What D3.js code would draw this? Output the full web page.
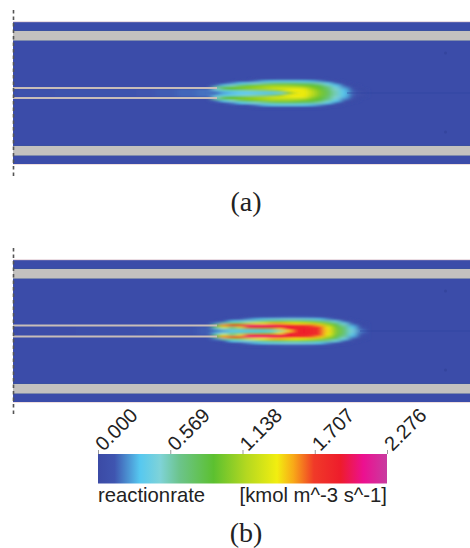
<!DOCTYPE html>
<html>
<head>
<meta charset="utf-8">
<script src="https://cdn.jsdelivr.net/npm/d3@7/dist/d3.min.js"></script>
<style>
  html, body { margin: 0; padding: 0; background: #fff; }
  svg { display: block; }
</style>
</head>
<body>
<div id="chart"></div>
<script>
// colour bar
var tickValues = [0, 0.569, 1.138, 1.707, 2.276];
var rampValues = [0, 0.13, 0.33, 0.49, 0.64, 0.91, 1.17, 1.41, 1.54, 1.70, 1.91, 2.09, 2.276];
var rampColors = ["#3b4aa5", "#3f55b0", "#56c8f0", "#7fd3d8", "#6cc48c", "#5cc030", "#b4d820", "#f2ee10", "#f8a818", "#f03a28", "#ee1c2c", "#ec1090", "#c83ca0"];

// reaction rate, one array per axial station, from the centreline outwards
var radialStations = [0, 1, 2, 3, 4, 5, 6, 7];
var axialStations = d3.range(19);
var flameA = [
  [.15, .25, .50, .60, .15, 0, 0, 0],
  [.25, .35, .75, .85, .35, .05, 0, 0],
  [.30, .40, .90, .95, .50, .20, 0, 0],
  [.33, .45, .95, 1.0, .70, .33, .03, 0],
  [.33, .50, 1.0, 1.05, .85, .42, .10, 0],
  [.35, .55, 1.05, 1.10, .95, .50, .20, .02],
  [.35, .60, 1.10, 1.15, 1.0, .60, .30, .04],
  [.38, .70, 1.20, 1.20, 1.05, .70, .35, .05],
  [.50, .95, 1.30, 1.20, 1.05, .75, .38, .06],
  [.90, 1.30, 1.35, 1.20, 1.05, .75, .38, .06],
  [1.30, 1.42, 1.38, 1.20, 1.0, .75, .38, .06],
  [1.40, 1.42, 1.35, 1.15, .95, .70, .35, .05],
  [1.20, 1.20, 1.10, 1.0, .90, .65, .30, .04],
  [1.0, 1.0, .95, .90, .80, .55, .22, .02],
  [.80, .80, .75, .70, .55, .35, .08, 0],
  [.55, .55, .50, .45, .33, .15, .02, 0],
  [.33, .33, .30, .22, .12, .02, 0, 0],
  [.15, .14, .10, .05, .01, 0, 0, 0],
  [.04, .03, .01, 0, 0, 0, 0, 0]
];
var flameB = [
  [.15, .30, .70, .90, .20, 0, 0, 0],
  [.25, .50, 1.30, 1.60, .60, .10, 0, 0],
  [.33, .60, .70, 1.90, 1.0, .33, .03, 0],
  [.33, .60, 1.30, 1.95, 1.0, .42, .12, 0],
  [.35, .70, 1.75, 2.05, 1.20, .50, .22, .02],
  [.35, .75, 1.90, 2.05, 1.35, .60, .30, .06],
  [.38, .85, 1.90, 2.05, 1.40, .75, .38, .10],
  [.42, 1.0, 1.95, 2.0, 1.50, .85, .42, .12],
  [.60, 1.40, 1.95, 1.95, 1.50, .90, .45, .14],
  [1.40, 1.80, 1.95, 1.85, 1.45, .95, .48, .15],
  [1.85, 1.85, 1.85, 1.75, 1.40, .95, .48, .15],
  [1.90, 1.90, 1.85, 1.72, 1.35, .92, .45, .15],
  [1.85, 1.85, 1.80, 1.65, 1.25, .85, .42, .14],
  [1.75, 1.75, 1.70, 1.50, 1.10, .75, .35, .08],
  [1.45, 1.42, 1.35, 1.15, .95, .60, .22, .03],
  [1.0, 1.0, .95, .90, .72, .42, .08, 0],
  [.75, .75, .70, .58, .40, .15, .02, 0],
  [.45, .42, .35, .25, .12, .03, 0, 0],
  [.20, .16, .10, .05, .01, 0, 0, 0]
];
// weak reaction inside the inner pipe, inlet to pipe exit
var pipeA = [.08, .08, .09, .09, .10, .11, .12, .14, .16, .18];
var pipeB = [.04, .05, .05, .06, .06, .07, .08, .09, .11, .14];

var width = 470;
var height = 548;
var blue = "#3b4ca9";
var wallGray = "#c3c1bf";

var svg = d3.select("#chart").append("svg")
  .attr("width", width)
  .attr("height", height);

var color = d3.scaleLinear().domain(rampValues).range(rampColors).clamp(true);

var defs = svg.append("defs");
defs.append("filter").attr("id", "soft")
  .attr("x", "-10%").attr("y", "-30%").attr("width", "120%").attr("height", "160%")
  .append("feGaussianBlur").attr("stdDeviation", "3.2 0.8");

defs.append("clipPath").attr("id", "domain")
  .append("rect").attr("x", 13).attr("y", 0).attr("width", 457).attr("height", 142);

var grad = defs.append("linearGradient").attr("id", "ramp");
grad.selectAll("stop").data(rampValues).enter().append("stop")
  .attr("offset", d => (d / 2.276))
  .attr("stop-color", d => color(d));

var xFlame = d3.scaleBand().domain(axialStations).range([212, 364]);
var xPipe = d3.scaleBand().domain(d3.range(10)).range([13, 217]);
var rFlame = d3.scaleLinear().domain([-0.5, 7.5]).range([-1, 15]);

function drawPanel(top, flame, pipe, pipeHalf, lineStart) {
  var g = svg.append("g").attr("transform", "translate(0," + top + ")");
  var mid = 71;

  g.append("rect").attr("x", 13).attr("y", 0).attr("width", 457).attr("height", 142).attr("fill", blue);
  g.append("rect").attr("x", 13).attr("y", -0.5).attr("width", 457).attr("height", 0.7).attr("fill", "#d8bcc8");
  g.append("rect").attr("x", 13).attr("y", 142).attr("width", 457).attr("height", 0.7).attr("fill", "#e8d0d0");

  // walls
  [[9, 9.5], [124, 9.5]].forEach(function (w) {
    g.append("rect").attr("x", 13).attr("y", w[0] - 0.5).attr("width", 457).attr("height", w[1] + 1).attr("fill", "#3a5598");
    g.append("rect").attr("x", 13).attr("y", w[0]).attr("width", 457).attr("height", w[1]).attr("fill", wallGray);
  });

  var inner = g.append("g").attr("clip-path", "url(#domain)");

  // pipe interior
  inner.append("g").attr("filter", "url(#soft)")
    .selectAll("rect").data(pipe).enter().append("rect")
    .attr("x", (d, i) => xPipe(i))
    .attr("y", mid - pipeHalf + 1)
    .attr("width", xPipe.bandwidth() + 0.5)
    .attr("height", 2 * pipeHalf - 2)
    .attr("fill", d => color(d));

  // flame, mirrored about the axis
  var flameG = inner.append("g").attr("filter", "url(#soft)");
  [-1, 1].forEach(function (side) {
    flame.forEach(function (col, i) {
      flameG.selectAll(null).data(col).enter().append("rect")
        .attr("x", xFlame(axialStations[i]))
        .attr("y", (d, j) => {
          var a = mid + side * rFlame(radialStations[j] - 0.5);
          var b = mid + side * rFlame(radialStations[j] + 0.5);
          return Math.min(a, b);
        })
        .attr("width", xFlame.bandwidth() + 0.5)
        .attr("height", Math.abs(rFlame(1) - rFlame(0)) + 0.3)
        .attr("fill", d => color(d))
        .attr("fill-opacity", d => d < 0.01 ? 0 : 1);
    });
  });

  // axis line past the flame
  g.append("line").attr("x1", lineStart).attr("x2", 470).attr("y1", mid).attr("y2", mid)
    .attr("stroke", "#2f45a0").attr("stroke-width", 0.7).attr("stroke-opacity", 0.9);

  // pipe walls
  [-pipeHalf, pipeHalf].forEach(function (dy) {
    g.append("rect").attr("x", 13).attr("y", mid + dy - 1).attr("width", 204).attr("height", 2).attr("fill", "#c8bdb8");
  });

  // grid specks near the outlet
  [31, 110].forEach(function (y) {
    g.append("circle").attr("cx", 445.5).attr("cy", y).attr("r", 1.5).attr("fill", "#34459e");
  });

  // symmetry plane
  g.append("line").attr("x1", 13.5).attr("x2", 13.5).attr("y1", -12).attr("y2", 154)
    .attr("stroke", "#555").attr("stroke-width", 1.6).attr("stroke-dasharray", "3.5 3");
}

drawPanel(22, flameA, pipeA, 5, 347);
drawPanel(260, flameB, pipeB, 5.5, 360);

// captions
[["(a)", 211], ["(b)", 542]].forEach(function (c) {
  svg.append("text")
    .attr("x", 246).attr("y", c[1])
    .attr("text-anchor", "middle")
    .attr("font-family", "'Liberation Serif', serif")
    .attr("font-size", 28)
    .attr("fill", "#222")
    .text(c[0]);
});

// colour bar
var barScale = d3.scaleLinear().domain([0, 2.276]).range([98, 387]);
svg.append("rect")
  .attr("x", 98).attr("y", 454).attr("width", 289).attr("height", 29.5)
  .attr("fill", "url(#ramp)");

var barAxis = d3.axisTop(barScale)
  .tickValues(tickValues)
  .tickFormat(d3.format(".3f"))
  .tickSize(4)
  .tickSizeOuter(0);

var axisG = svg.append("g").attr("transform", "translate(0,454)").call(barAxis);
axisG.select(".domain").remove();
axisG.selectAll("line").attr("stroke", "#999");
axisG.selectAll("text")
  .attr("font-family", "'Liberation Sans', sans-serif")
  .attr("font-size", 20)
  .attr("fill", "#222")
  .attr("text-anchor", "start")
  .attr("dy", null)
  .attr("y", 0)
  .attr("transform", "translate(5,-2) rotate(-45)");

svg.append("text")
  .attr("x", 98).attr("y", 502)
  .attr("font-family", "'Liberation Sans', sans-serif")
  .attr("font-size", 20.3)
  .attr("fill", "#222")
  .text("reactionrate");

svg.append("text")
  .attr("x", 387).attr("y", 502)
  .attr("text-anchor", "end")
  .attr("font-family", "'Liberation Sans', sans-serif")
  .attr("font-size", 20.3)
  .attr("fill", "#222")
  .text("[kmol m^-3 s^-1]");
</script>
</body>
</html>
